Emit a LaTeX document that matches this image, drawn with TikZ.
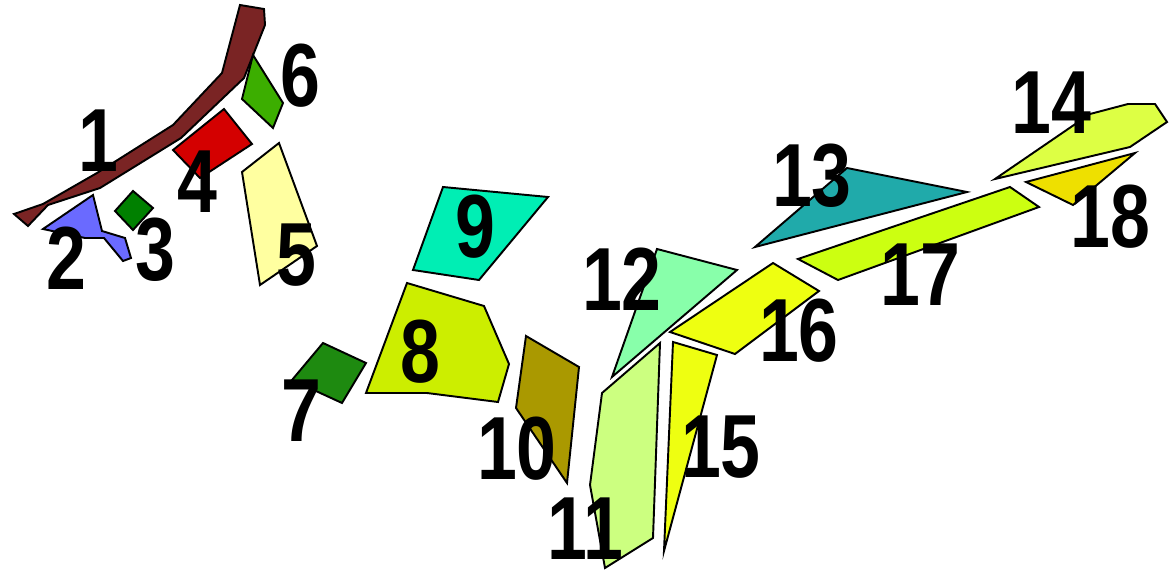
\documentclass[tikz,border=0pt]{standalone}
\usepackage{fontspec}
\newfontfamily\numfont{Liberation Sans}[FakeStretch=0.8]
\usepackage{tikz}
\usetikzlibrary{positioning}
\definecolor{cA}{HTML}{7A2424}
\definecolor{cB}{HTML}{6A6AFF}
\definecolor{cC}{HTML}{008000}
\definecolor{cD}{HTML}{D40000}
\definecolor{cE}{HTML}{FFFFA0}
\definecolor{cF}{HTML}{3CAE00}
\definecolor{cG}{HTML}{1E8A10}
\definecolor{cH}{HTML}{CCEE00}
\definecolor{cI}{HTML}{00EEB4}
\definecolor{cJ}{HTML}{AA9900}
\definecolor{cK}{HTML}{CCFF80}
\definecolor{cL}{HTML}{88FFAA}
\definecolor{cM}{HTML}{20AAAA}
\definecolor{cN}{HTML}{DDFF44}
\definecolor{cO}{HTML}{EEFF11}
\definecolor{cP}{HTML}{CCFF11}
\definecolor{cQ}{HTML}{EEE000}
\tikzset{
  region/.style={draw, line width=1.1pt, line join=miter},
  num/.style={font=\numfont\bfseries\fontsize{51}{51}\selectfont, inner sep=0pt}}

\begin{document}
\begin{tikzpicture}[x=0.02cm, y=-0.02cm]
  \useasboundingbox (0,0) rectangle (1173,571);
  % regions
  \draw[region, fill=cA] (14,214) -- (43,204) -- (97,173) -- (173,125) -- (222,73) -- (240,5) -- (264,9) -- (265,25) -- (244,78) -- (181,138) -- (100,188) -- (48,205) -- (28,226) -- cycle;
  \draw[region, fill=cB] (43,229) -- (93,195) -- (102,231) -- (125,238) -- (131,258) -- (123,261) -- (104,238) -- (85,238) -- cycle;
  \draw[region, fill=cC] (115,211) -- (133,191) -- (153,208) -- (133,230) -- cycle;
  \draw[region, fill=cD] (173,150) -- (224,109) -- (252,144) -- (200,178) -- cycle;
  \draw[region, fill=cE] (242,172) -- (279,143) -- (317,246) -- (260,285) -- cycle;
  \draw[region, fill=cF] (253,55) -- (283,103) -- (273,128) -- (242,99) -- cycle;
  \draw[region, fill=cG] (292,380) -- (323,343) -- (366,363) -- (342,403) -- cycle;
  \draw[region, fill=cH] (407,283) -- (484,306) -- (509,364) -- (498,402) -- (427,393) -- (366,393) -- cycle;
  \draw[region, fill=cI] (443,187) -- (548,197) -- (479,280) -- (413,270) -- cycle;
  \draw[region, fill=cJ] (526,336) -- (579,367) -- (567,483) -- (516,408) -- cycle;
  \draw[region, fill=cK] (602,393) -- (660,343) -- (653,538) -- (605,568) -- (590,485) -- cycle;
  \draw[region, fill=cL] (657,249) -- (737,270) -- (612,377) -- cycle;
  \draw[region, fill=cM] (755,247) -- (847,168) -- (967,192) -- cycle;
  \draw[region, fill=cN] (995,179) -- (1090,114) -- (1128,104) -- (1155,104) -- (1167,122) -- (1130,147) -- cycle;
  \draw[region, fill=cO] (673,342) -- (717,355) -- (664,551) -- cycle;
  \draw[region, fill=cO] (670,332) -- (773,263) -- (819,291) -- (735,354) -- cycle;
  \draw[region, fill=cP] (798,259) -- (1010,187) -- (1039,207) -- (838,280) -- cycle;
  \draw[region, fill=cQ] (1026,182) -- (1135,153) -- (1073,205) -- cycle;
  % numbers
  \node[num] (n1) at (98,141) {1};
  \node[num] (n2) at (66,258) {2};
  \node[num] (n3) at (155,250) {3};
  \node[num] (n4) at (197,182) {4};
  \node[num] (n5) at (296,255) {5};
  \node[num] (n6) at (300,76) {6};
  \node[num] (n7) at (301,411) {7};
  \node[num] (n8) at (420,352) {8};
  \node[num] (n9) at (475,227) {9};
  \node[num] (n10) at (517,449) {10};
  \node[num] (n11) at (585,529) {11};
  \node[num] (n12) at (622,279) {12};
  \node[num] (n13) at (812,176) {13};
  \node[num] (n14) at (1051,103) {14};
  \node[num] (n15) at (721,447) {15};
  \node[num] (n16) at (799,331) {16};
  \node[num] (n17) at (920,275) {17};
  \node[num] (n18) at (1110,217) {18};
\end{tikzpicture}
\end{document}
